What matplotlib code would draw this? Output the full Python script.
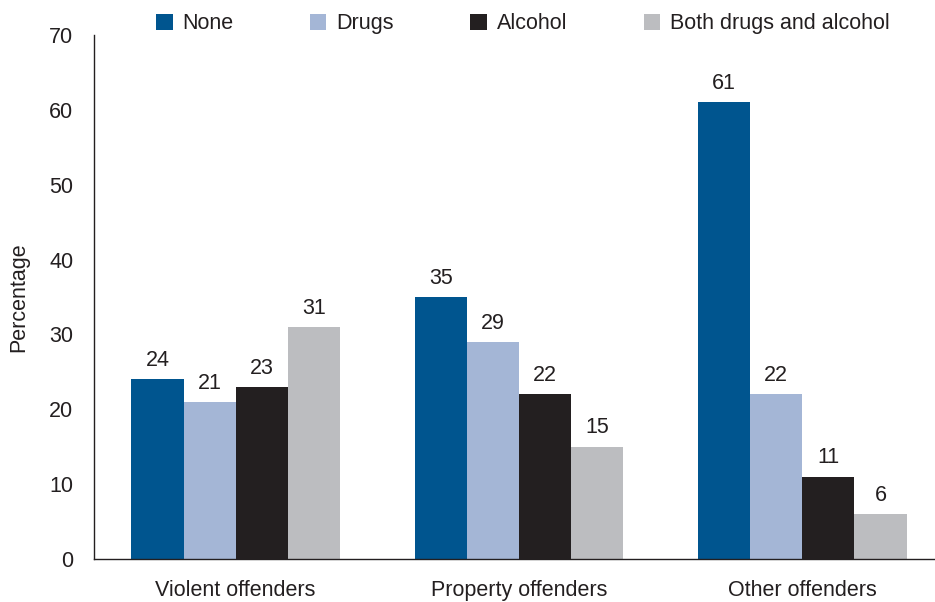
import numpy as np
import matplotlib.pyplot as plt

plt.rcParams['font.family'] = ['Liberation Sans', 'DejaVu Sans']

# 범주와 값
groups = ['Violent offenders', 'Property offenders', 'Other offenders']
series = ['None', 'Drugs', 'Alcohol', 'Both drugs and alcohol']
none = [24, 35, 61]
drugs = [21, 29, 22]
alcohol = [23, 22, 11]
both = [31, 15, 6]
colors = ['#00558f', '#a4b6d6', '#231f20', '#bcbdc0']

W, H = 935, 602
fs = 15.5
fig = plt.figure(figsize=(W / 100, H / 100), dpi=100)
ax = fig.add_axes([94 / W, (H - 559) / H, (W - 94) / W, (559 - 35) / H])

x = np.arange(len(groups))
width = 0.184
values = [none, drugs, alcohol, both]
for i, (name, vals, c) in enumerate(zip(series, values, colors)):
    pos = x + (i - 1.5) * width
    bars = ax.bar(pos, vals, width, color=c, label=name)
    for b, v in zip(bars, vals):
        ax.text(b.get_x() + b.get_width() / 2, v + 1.1, str(v),
                ha='center', va='bottom', fontsize=fs, color='#231f20')

ax.set_xlim(-0.5, (W - 236.5) / 283)
ax.set_ylim(0, 70)
ax.set_yticks(range(0, 71, 10))
ax.set_xticks(x)
ax.set_xticklabels(groups)
ax.tick_params(length=0, labelsize=fs, colors='#231f20')
ax.tick_params(axis='x', pad=15)
ax.tick_params(axis='y', pad=15)
for s in ['top', 'right']:
    ax.spines[s].set_visible(False)
for s in ['left', 'bottom']:
    ax.spines[s].set_color('#231f20')
    ax.spines[s].set_linewidth(1.0)
ax.set_ylabel('Percentage', fontsize=fs, color='#231f20', labelpad=14)

fig.legend(loc='upper left', bbox_to_anchor=(137 / W, 1.01), ncol=4,
           frameon=False, fontsize=fs, handlelength=0.75, handleheight=0.75,
           handletextpad=0.47, columnspacing=3.55, labelcolor='#231f20')

plt.savefig('out.png', dpi=100)
